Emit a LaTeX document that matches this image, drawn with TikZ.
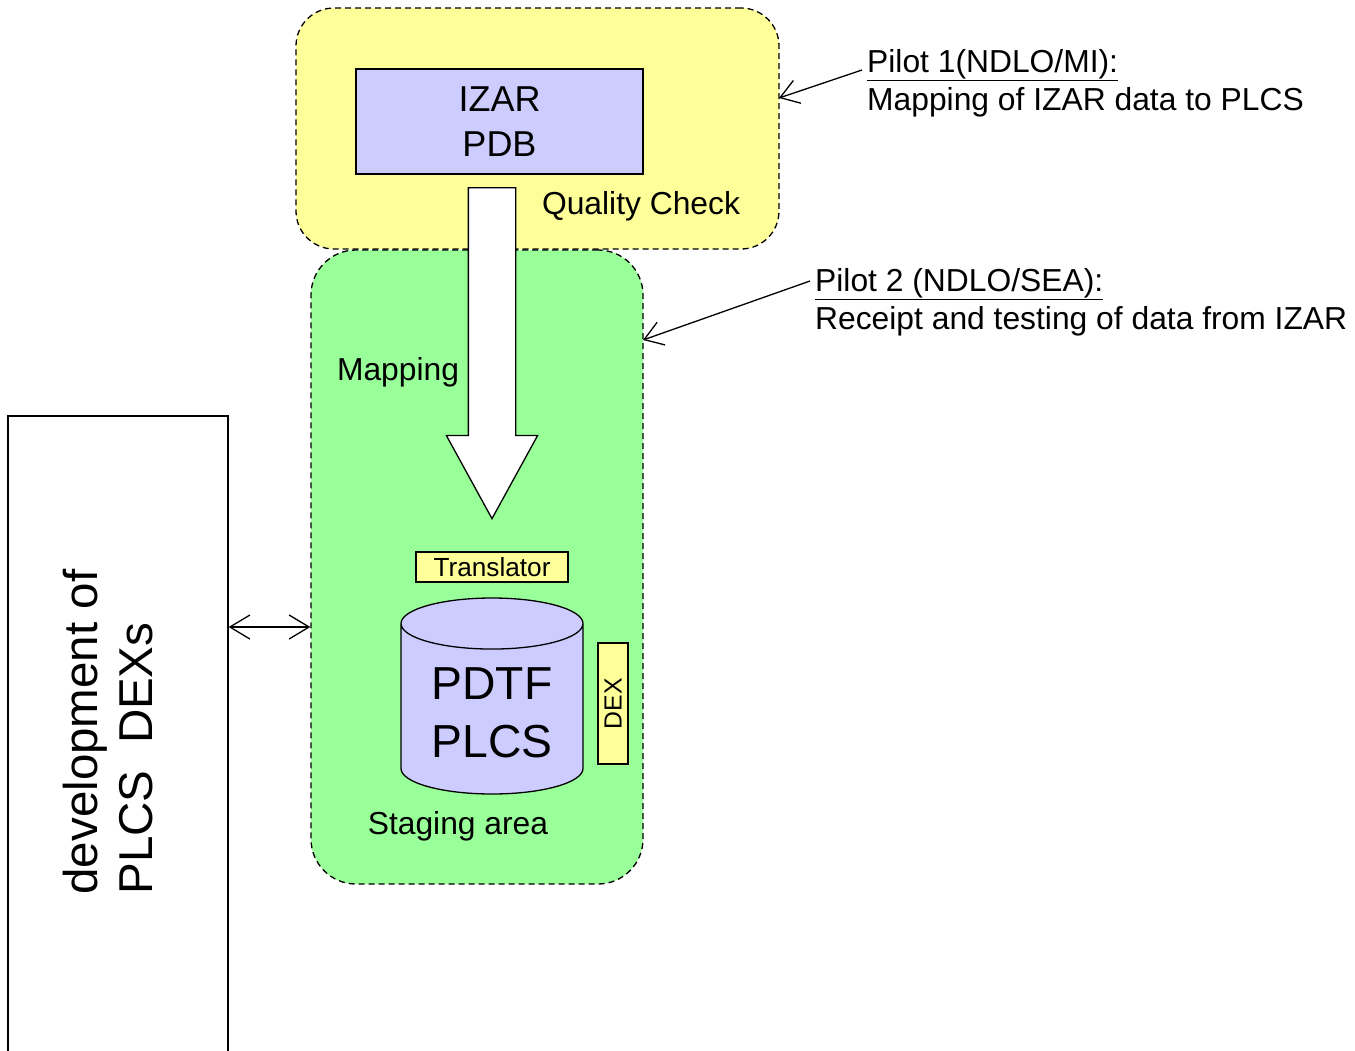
\documentclass[tikz,border=0pt]{standalone}
\usepackage{fontspec}
\setmainfont{Liberation Sans}
\usetikzlibrary{arrows.meta,positioning,shapes.geometric,shapes.arrows}
\definecolor{paleyellow}{RGB}{255,255,153}
\definecolor{palegreen}{RGB}{153,255,153}
\definecolor{lavender}{RGB}{204,204,255}
\tikzset{
  zone/.style={draw=black,line width=1.3pt,dash pattern=on 6pt off 4pt,inner sep=0pt},
  store/.style={draw=black,line width=1.3pt,fill=lavender,align=center},
  tagbox/.style={draw=black,line width=1.3pt,fill=paleyellow,inner sep=0pt},
  lbl/.style={font=\fontsize{31.8}{38}\selectfont,inner sep=0pt},
  note/.style={lbl,align=left,anchor=north west},
  pointer/.style={-{Straight Barb[length=18pt,width=24pt]},line width=1.3pt},
  twoway/.style={{Straight Barb[length=20pt,width=24pt]}-{Straight Barb[length=20pt,width=24pt]},line width=1.3pt},
  mapflow/.style={single arrow,draw=black,line width=1.3pt,fill=white,inner xsep=0pt,inner ysep=23pt,
    single arrow head extend=22pt,single arrow tip angle=57.5,rotate=-90}
}
\begin{document}
\begin{tikzpicture}[x=1pt,y=-1pt]
\path[use as bounding box,clip] (0,0) rectangle (1355,1050);
% zones
\node[zone,fill=paleyellow,rounded corners=38pt,minimum width=483pt,minimum height=241pt] (qzone) at (537.5,128.5) {};
\node[zone,fill=palegreen,rounded corners=45pt,minimum width=332pt,minimum height=634pt] (stage) at (477,567) {};
\node[store,font=\fontsize{36}{45}\selectfont,minimum width=287pt,minimum height=105pt] (izar) at (499.5,121.5) {IZAR\\PDB};
\node[lbl] (qcheck) at (641,206) {Quality Check};
\node[mapflow,minimum height=331pt,minimum width=90pt,anchor=tip] (flow) at (492,520) {};
\node[lbl] (mapping) at (398,372) {Mapping};
\node[tagbox,font=\fontsize{26.2}{30}\selectfont,minimum width=152pt,minimum height=30pt] (trans) at (492,567) {Translator};
\node[store,cylinder,shape border rotate=90,aspect=0.4,minimum width=182pt,minimum height=196pt,
  font=\fontsize{46.3}{58}\selectfont,anchor=shape center] (pdtf) at (492,696) {PDTF\\PLCS};
\node[tagbox,rotate=90,font=\fontsize{24.8}{30}\selectfont,minimum width=121pt,minimum height=30pt] (dex) at (613,703.5) {DEX};
\node[lbl] (staging) at (458,826) {Staging area};
% development box
\node[draw=black,line width=1.3pt,minimum width=220pt,minimum height=654pt] (devbox) at (118,743) {};
\node[rotate=90,align=left,font=\fontsize{47.5}{55}\selectfont,inner sep=0pt] (devtext) at (108,732) {development of\\PLCS\ \ DEXs};
\coordinate (linky) at (0,627);
\draw[twoway] (devbox.east |- linky) -- (stage.west |- linky);
% pilots
\node[note] (pilot1) at (867,49) {\underline{Pilot 1(NDLO/MI):}\\Mapping of IZAR data to PLCS};
\node[note] (pilot2) at (815,268) {\underline{Pilot 2 (NDLO/SEA):}\\Receipt and testing of data from IZAR};
\coordinate (p1tail) at (862,70);
\coordinate (p1head) at (779,98);
\coordinate (p2tail) at (810,281);
\coordinate (p2head) at (643,340);
\draw[pointer] (p1tail) -- (p1head);
\draw[pointer] (p2tail) -- (p2head);
\end{tikzpicture}
\end{document}
